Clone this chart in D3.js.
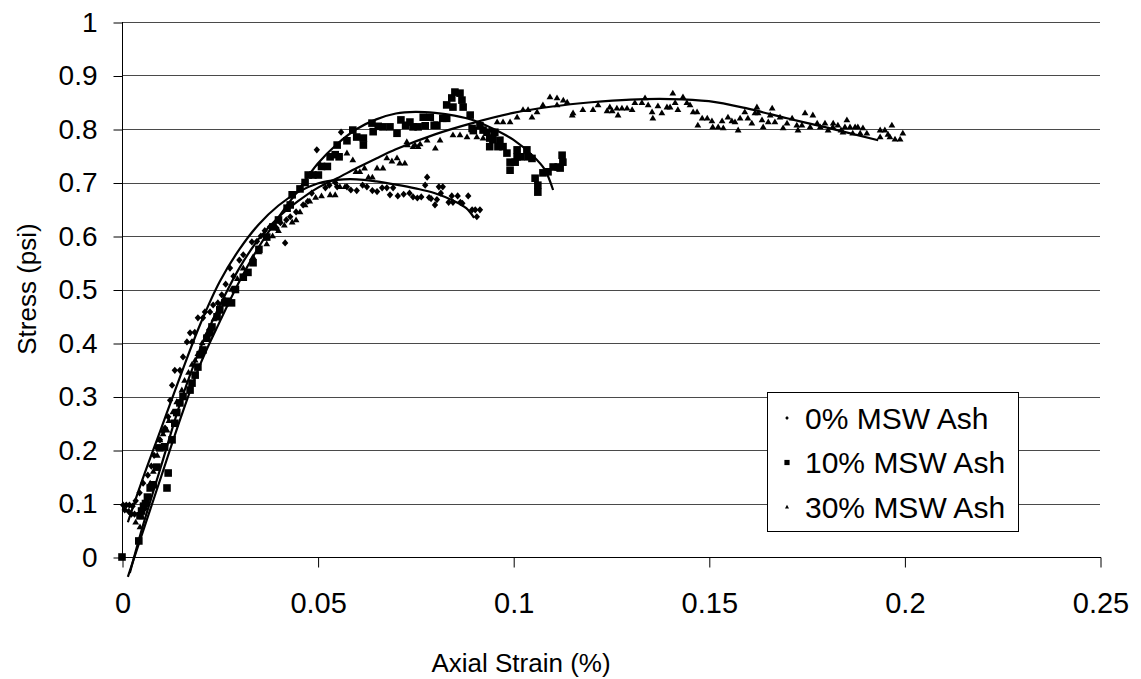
<!DOCTYPE html>
<html><head><meta charset="utf-8">
<script src="https://cdn.jsdelivr.net/npm/d3@7"></script>
<style>
html,body{margin:0;padding:0;background:#fff;}
svg{display:block;font-family:"Liberation Sans",Arial,sans-serif;}
</style></head>
<body>
<svg id="chart" width="1141" height="679"></svg>
<script>
// ---------- data (strain %, stress psi) ----------
const seriesNames = ["0% MSW Ash", "10% MSW Ash", "30% MSW Ash"];
const xTickValues = [0, 0.05, 0.1, 0.15, 0.2, 0.25];
const xTickLabels = ["0", "0.05", "0.1", "0.15", "0.2", "0.25"];
const yTickValues = [0, 0.1, 0.2, 0.3, 0.4, 0.5, 0.6, 0.7, 0.8, 0.9, 1];
const yTickLabels = ["0", "0.1", "0.2", "0.3", "0.4", "0.5", "0.6", "0.7", "0.8", "0.9", "1"];

const ash0 = [
[0.0003,0.097],[0.0011,0.097],[0.0019,0.097],[0.0027,0.095],[0.0007,0.088],[0.0017,0.085],[0.0024,0.08],[0.0032,0.08],
[0.0035,0.105],[0.0045,0.12],[0.0054,0.138],[0.0066,0.153],[0.0075,0.17],[0.0082,0.19],[0.0089,0.204],[0.0097,0.219],
[0.0105,0.235],[0.011,0.241],[0.0118,0.262],[0.0123,0.293],[0.0128,0.321],[0.0135,0.349],[0.0148,0.349],[0.0156,0.374],
[0.0166,0.402],[0.0174,0.419],[0.0179,0.402],[0.0186,0.42],[0.0194,0.447],[0.0207,0.447],[0.0212,0.458],[0.0225,0.458],
[0.0233,0.471],[0.0245,0.475],[0.0255,0.49],[0.0265,0.51],[0.0276,0.54],[0.0285,0.525],[0.030,0.555],[0.031,0.565],
[0.0332,0.589],[0.0345,0.59],[0.0355,0.6],[0.0365,0.61],[0.0378,0.617],[0.0395,0.615],[0.0405,0.625],[0.0417,0.587],
[0.042,0.63],[0.043,0.636],[0.0445,0.645],[0.0463,0.658],[0.0475,0.665],[0.0485,0.68],[0.0498,0.761],[0.0506,0.733],
[0.052,0.69],[0.053,0.695],[0.0545,0.7],[0.055,0.692],[0.056,0.794],[0.0575,0.692],[0.0585,0.686],[0.06,0.685],
[0.0615,0.695],[0.0626,0.692],[0.064,0.685],[0.0652,0.683],[0.0665,0.69],[0.0677,0.69],[0.0685,0.677],[0.0693,0.69],
[0.0705,0.675],[0.072,0.678],[0.0735,0.68],[0.0744,0.673],[0.0755,0.671],[0.0765,0.673],[0.0775,0.695],[0.078,0.71],
[0.0785,0.672],[0.079,0.67],[0.080,0.658],[0.0805,0.668],[0.081,0.692],[0.082,0.692],[0.0815,0.68],[0.0835,0.663],
[0.0843,0.675],[0.0846,0.663],[0.0858,0.675],[0.0865,0.663],[0.087,0.661],[0.0885,0.675],[0.0895,0.649],[0.0903,0.649],
[0.0907,0.636],[0.0915,0.649]
];

const ash10 = [
[0.0,0.0],[0.0043,0.03],[0.0046,0.077],[0.005,0.086],[0.0055,0.095],[0.006,0.1],[0.0065,0.112],[0.0072,0.129],
[0.008,0.135],[0.0089,0.168],[0.0097,0.204],[0.0109,0.206],[0.0115,0.129],[0.0118,0.157],[0.0128,0.219],[0.0135,0.25],
[0.014,0.27],[0.0148,0.288],[0.0156,0.3],[0.0174,0.312],[0.0179,0.325],[0.0187,0.34],[0.0194,0.355],[0.02,0.378],
[0.0207,0.387],[0.0217,0.409],[0.0225,0.419],[0.023,0.43],[0.0243,0.449],[0.025,0.462],[0.0263,0.475],[0.027,0.478],
[0.028,0.475],[0.029,0.5],[0.031,0.523],[0.0322,0.532],[0.0335,0.55],[0.035,0.575],[0.037,0.598],[0.0386,0.617],
[0.04,0.63],[0.0422,0.652],[0.043,0.658],[0.0435,0.677],[0.0455,0.688],[0.0468,0.7],[0.0476,0.714],[0.0488,0.714],
[0.0502,0.714],[0.051,0.73],[0.0525,0.73],[0.0532,0.748],[0.0545,0.752],[0.055,0.77],[0.0555,0.748],[0.0575,0.778],
[0.059,0.798],[0.06,0.785],[0.0617,0.783],[0.0617,0.77],[0.0639,0.811],[0.0642,0.795],[0.0655,0.805],[0.0667,0.804],
[0.0685,0.804],[0.0703,0.792],[0.0713,0.817],[0.0725,0.807],[0.0736,0.813],[0.0744,0.804],[0.0757,0.804],[0.077,0.822],
[0.0775,0.806],[0.0788,0.822],[0.0798,0.807],[0.0805,0.807],[0.082,0.82],[0.083,0.82],[0.083,0.845],[0.0843,0.858],
[0.0851,0.869],[0.0864,0.867],[0.0869,0.854],[0.0872,0.841],[0.0846,0.841],[0.089,0.826],[0.0895,0.801],[0.0898,0.797],
[0.0915,0.806],[0.0923,0.798],[0.0933,0.794],[0.094,0.783],[0.094,0.767],[0.0953,0.794],[0.0948,0.78],[0.0966,0.779],
[0.0961,0.767],[0.0974,0.767],[0.0984,0.755],[0.0992,0.738],[0.0992,0.723],[0.1005,0.738],[0.101,0.761],[0.101,0.748],
[0.102,0.748],[0.1035,0.761],[0.1038,0.748],[0.1048,0.745],[0.1056,0.708],[0.1063,0.695],[0.1063,0.682],[0.1076,0.718],
[0.1089,0.72],[0.1102,0.729],[0.1115,0.729],[0.112,0.727],[0.1125,0.751],[0.1127,0.738]
];

const ash30 = [
[0.0035,0.065],[0.0046,0.056],[0.0051,0.075],[0.0055,0.09],[0.0062,0.105],[0.0072,0.138],[0.008,0.16],[0.009,0.19],
[0.0097,0.219],[0.0105,0.23],[0.0115,0.237],[0.012,0.255],[0.013,0.271],[0.014,0.29],[0.0153,0.312],[0.016,0.33],
[0.017,0.345],[0.0179,0.36],[0.0187,0.368],[0.0194,0.38],[0.0205,0.4],[0.0215,0.415],[0.0225,0.43],[0.0235,0.445],
[0.025,0.46],[0.0265,0.48],[0.028,0.5],[0.0295,0.52],[0.031,0.54],[0.0335,0.561],[0.035,0.57],[0.037,0.585],
[0.0385,0.6],[0.04,0.61],[0.0415,0.62],[0.0435,0.626],[0.0445,0.63],[0.0455,0.645],[0.0468,0.658],[0.048,0.665],
[0.0495,0.672],[0.051,0.675],[0.0532,0.677],[0.0545,0.677],[0.0557,0.692],[0.057,0.692],[0.0575,0.755],[0.059,0.742],
[0.0598,0.72],[0.0608,0.72],[0.062,0.727],[0.063,0.71],[0.064,0.71],[0.0652,0.727],[0.0667,0.727],[0.0677,0.746],
[0.069,0.74],[0.0703,0.746],[0.071,0.736],[0.0723,0.736],[0.073,0.77],[0.0749,0.77],[0.0757,0.767],[0.0728,0.776],
[0.0744,0.767],[0.0762,0.772],[0.078,0.779],[0.0801,0.764],[0.0813,0.779],[0.0846,0.789],[0.0864,0.789],[0.0882,0.785],
[0.0907,0.785],[0.0923,0.783],[0.094,0.798],[0.0959,0.813],[0.0974,0.813],[0.0992,0.813],[0.101,0.822],[0.1025,0.836],
[0.1038,0.836],[0.1048,0.822],[0.1061,0.832],[0.1076,0.845],[0.1094,0.86],[0.1112,0.858],[0.1128,0.854],[0.1138,0.85],
[0.1112,0.845],[0.1151,0.826],[0.1153,0.83],[0.1178,0.836],[0.1204,0.836],[0.1217,0.845],[0.124,0.834],[0.1253,0.834],
[0.1247,0.841],[0.1268,0.826],[0.1265,0.839],[0.1278,0.839],[0.1291,0.839],[0.1304,0.836],[0.1311,0.849],[0.1329,0.849],
[0.1337,0.858],[0.1345,0.845],[0.1355,0.832],[0.1357,0.82],[0.137,0.843],[0.138,0.83],[0.1393,0.841],[0.1401,0.841],
[0.1408,0.867],[0.1414,0.849],[0.1421,0.836],[0.1434,0.86],[0.1444,0.849],[0.1452,0.845],[0.146,0.832],[0.147,0.832],
[0.1472,0.807],[0.1483,0.82],[0.1496,0.82],[0.1508,0.815],[0.151,0.804],[0.1524,0.804],[0.1534,0.815],[0.1537,0.802],
[0.1549,0.822],[0.1559,0.815],[0.1567,0.813],[0.1575,0.798],[0.158,0.82],[0.1592,0.832],[0.16,0.82],[0.161,0.811],
[0.1623,0.841],[0.1618,0.83],[0.1626,0.83],[0.1636,0.817],[0.1639,0.804],[0.1652,0.813],[0.1662,0.839],[0.1657,0.826],
[0.1669,0.813],[0.1682,0.822],[0.169,0.802],[0.17,0.811],[0.1713,0.82],[0.1725,0.807],[0.1728,0.798],[0.1738,0.807],
[0.1746,0.83],[0.1759,0.804],[0.1766,0.826],[0.1777,0.811],[0.1785,0.804],[0.1797,0.811],[0.1805,0.798],[0.1817,0.804],
[0.183,0.807],[0.1818,0.811],[0.1838,0.798],[0.1843,0.794],[0.1853,0.817],[0.1848,0.804],[0.1861,0.804],[0.1874,0.804],
[0.1881,0.804],[0.1894,0.802],[0.1868,0.792],[0.1887,0.792],[0.1904,0.792],[0.1938,0.798],[0.195,0.798],[0.1968,0.807],
[0.1963,0.785],[0.1958,0.79],[0.1938,0.785],[0.1976,0.781],[0.1989,0.781],[0.1996,0.792]
];

// trendlines
const trend0 = [[0.0015,0.065],[0.005,0.14],[0.01,0.24],[0.015,0.34],[0.02,0.435],[0.025,0.515],[0.03,0.575],
[0.035,0.622],[0.04,0.657],[0.045,0.682],[0.05,0.698],[0.055,0.705],[0.06,0.706],[0.065,0.702],[0.07,0.696],
[0.075,0.689],[0.08,0.68],[0.085,0.665],[0.088,0.652],[0.09,0.634]];
const trend10 = [[0.0015,-0.037],[0.005,0.04],[0.01,0.15],[0.015,0.26],[0.02,0.36],[0.025,0.44],[0.03,0.515],
[0.035,0.58],[0.04,0.635],[0.045,0.685],[0.05,0.735],[0.055,0.772],[0.06,0.8],[0.065,0.818],[0.07,0.829],
[0.075,0.832],[0.08,0.83],[0.085,0.825],[0.09,0.816],[0.095,0.80],[0.1,0.78],[0.105,0.75],[0.108,0.725],[0.1102,0.686]];
const trend30 = [[0.002,-0.03],[0.005,0.05],[0.01,0.17],[0.015,0.29],[0.02,0.39],[0.025,0.47],[0.03,0.54],
[0.035,0.595],[0.04,0.635],[0.045,0.665],[0.05,0.69],[0.055,0.708],[0.06,0.727],[0.065,0.745],[0.07,0.762],
[0.08,0.79],[0.09,0.812],[0.1,0.83],[0.11,0.842],[0.12,0.85],[0.13,0.855],[0.14,0.856],[0.15,0.852],[0.16,0.838],
[0.17,0.82],[0.18,0.803],[0.1933,0.779]];

// ---------- drawing ----------
const svg = d3.select("#chart");
svg.append("rect").attr("width",1141).attr("height",679).attr("fill","#fff");

const L = 122, R = 1100, T = 22, B = 557;
const x = d3.scaleLinear().domain([0,0.25]).range([L,R]);
const y = d3.scaleLinear().domain([0,1]).range([B,T]);

// gridlines
svg.append("g").selectAll("line").data(yTickValues.filter(v=>v>0)).join("line")
  .attr("x1",L).attr("x2",R)
  .attr("y1",d=>Math.round(y(d))+0.5).attr("y2",d=>Math.round(y(d))+0.5)
  .attr("stroke","#4a4a4a").attr("stroke-width",1);

// axes
const yAxis = d3.axisLeft(y).tickValues(yTickValues)
  .tickFormat((d,i)=>yTickLabels[i]).tickSize(9).tickPadding(16);
const gy = svg.append("g").attr("transform",`translate(${L+0.5},0.5)`).call(yAxis);
const xAxis = d3.axisBottom(x).tickValues(xTickValues)
  .tickFormat((d,i)=>xTickLabels[i]).tickSize(10).tickPadding(25);
const gx = svg.append("g").attr("transform",`translate(0.5,${B+0.5})`).call(xAxis);
[gx,gy].forEach(g=>{
  g.select(".domain").remove();
  g.selectAll(".tick line").attr("stroke","#000");
  g.selectAll("text").attr("fill","#000").style("font-family","'Liberation Sans',Arial,sans-serif");
});
gy.selectAll("text").style("font-size","28px");
gx.selectAll("text").style("font-size","29px");
svg.append("line").attr("x1",L+0.5).attr("x2",L+0.5).attr("y1",T).attr("y2",B+1).attr("stroke","#000");
svg.append("line").attr("x1",L).attr("x2",R+1).attr("y1",B+0.5).attr("y2",B+0.5).attr("stroke","#000");

const shapes = {
  diamond: (w,h)=>`M0,${-h}L${w},0L0,${h}L${-w},0Z`,
  square: (s)=>`M${-s},${-s}H${s}V${s}H${-s}Z`,
  triangle: (w,h)=>`M0,${-h*0.6}L${w},${h*0.4}L${-w},${h*0.4}Z`
};
const markerPaths = [shapes.diamond(3.2,3.6), shapes.square(3.8), shapes.triangle(3.4,5.8)];
const seriesData = [ash0, ash10, ash30];

seriesData.forEach((data,k)=>{
  svg.append("g").selectAll("path").data(data).join("path")
    .attr("d",markerPaths[k])
    .attr("transform",d=>`translate(${x(d[0])},${y(d[1])})`)
    .attr("fill","#000");
});

const line = d3.line().x(d=>x(d[0])).y(d=>y(d[1])).curve(d3.curveCatmullRom);
[trend0, trend10, trend30].forEach(t=>{
  svg.append("path").datum(t).attr("d",line)
    .attr("fill","none").attr("stroke","#000").attr("stroke-width",2.2);
});

// axis titles
svg.append("text").attr("x",521).attr("y",672).attr("text-anchor","middle")
  .style("font-size","26px").attr("fill","#000").text("Axial Strain (%)");
svg.append("text").attr("transform","translate(36,289) rotate(-90)").attr("text-anchor","middle")
  .style("font-size","26px").attr("fill","#000").text("Stress (psi)");

// legend
const lg = svg.append("g");
lg.append("rect").attr("x",767.5).attr("y",392.5).attr("width",251).attr("height",139)
  .attr("fill","#fff").attr("stroke","#000").attr("stroke-width",1);
const legendMarkers = [shapes.diamond(1.8,2), shapes.square(2.6), shapes.triangle(2,3.6)];
seriesNames.forEach((n,i)=>{
  const cy = 418 + i*44.5;
  lg.append("path").attr("d",legendMarkers[i]).attr("transform",`translate(787,${cy})`).attr("fill","#000");
  lg.append("text").attr("x",805).attr("y",cy).attr("dy","0.36em")
    .style("font-size","30px").attr("fill","#000").text(n);
});
</script>
</body></html>
